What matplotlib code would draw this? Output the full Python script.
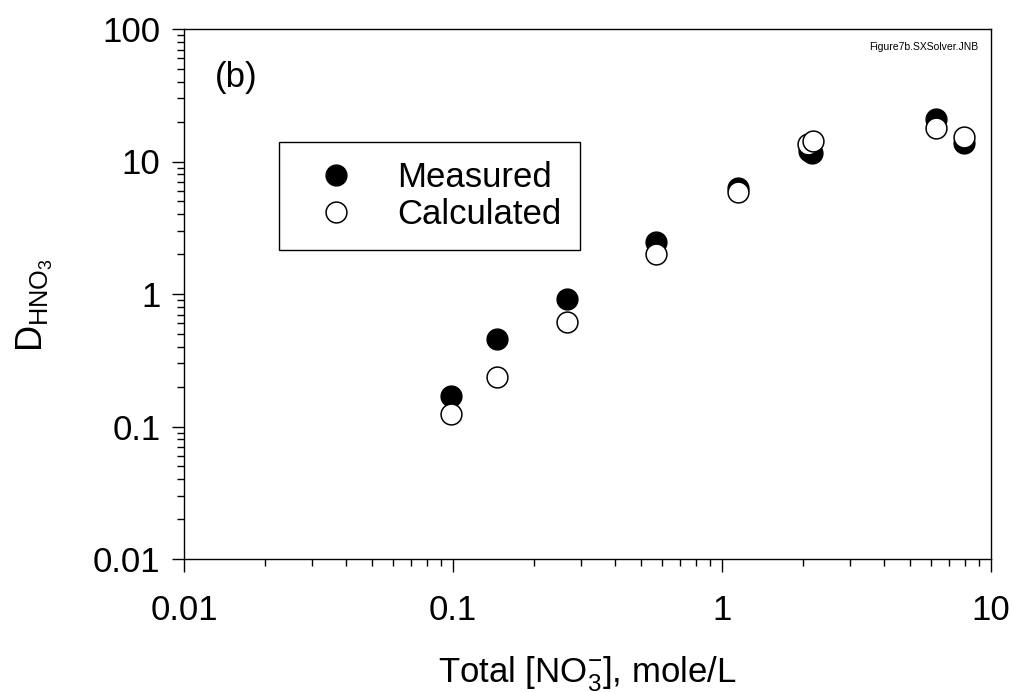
import matplotlib
matplotlib.use("Agg")
import matplotlib.pyplot as plt
from matplotlib.lines import Line2D

plt.rcParams['font.family'] = ['Liberation Sans', 'DejaVu Sans']
plt.rcParams['mathtext.fontset'] = 'custom'
plt.rcParams['mathtext.rm'] = 'Liberation Sans'
plt.rcParams['mathtext.it'] = 'Liberation Sans'
plt.rcParams['mathtext.bf'] = 'Liberation Sans:bold'

# Data
meas_x = [0.0985, 0.146, 0.266, 0.569, 1.146, 2.10, 2.16, 6.25, 7.94]
meas_y = [0.170, 0.457, 0.916, 2.47, 6.30, 11.9, 11.6, 20.9, 13.8]
calc_x = [0.0985, 0.146, 0.266, 0.569, 1.146, 2.09, 2.18, 6.25, 7.94]
calc_y = [0.124, 0.236, 0.615, 2.00, 5.89, 13.6, 14.3, 17.9, 15.3]
x_ticks = [0.01, 0.1, 1, 10]
x_ticklabels = ['0.01', '0.1', '1', '10']
y_ticks = [0.01, 0.1, 1, 10, 100]
y_ticklabels = ['0.01', '0.1', '1', '10', '100']

fig = plt.figure(figsize=(10.13, 6.92), dpi=100)
ax = fig.add_axes([184/1013, 1-559/692, (991-184)/1013, (559-29)/692])

ax.set_xscale('log')
ax.set_yscale('log')
ax.set_xlim(0.01, 10)
ax.set_ylim(0.01, 100)

ms = 15
ax.plot(meas_x, meas_y, 'o', ls='none', ms=ms, mfc='black', mec='black', mew=1, zorder=3)
ax.plot(calc_x, calc_y, 'o', ls='none', ms=ms, mfc='white', mec='black', mew=1.1, zorder=4)

ax.set_xticks(x_ticks)
ax.set_xticklabels(x_ticklabels)
ax.set_yticks(y_ticks)
ax.set_yticklabels(y_ticklabels)
ax.tick_params(axis='both', which='major', direction='out', length=9, width=1,
               labelsize=25, colors='black')
ax.tick_params(axis='x', which='major', pad=16)
ax.tick_params(axis='y', which='major', pad=8)
ax.tick_params(axis='both', which='minor', direction='out', length=5, width=1)
for s in ax.spines.values():
    s.set_linewidth(1)
    s.set_color('black')

ax.set_xlabel(r'Total [NO$\mathregular{_3^{-}}$], mole/L', fontsize=25, labelpad=20)
ax.set_ylabel(r'$\mathregular{D_{HNO_3}}$', fontsize=26, labelpad=27)
ax.yaxis.label.set_y(0.48)

ax.text(215/1013, 1-78/692, '(b)', transform=fig.transFigure, fontsize=25,
        ha='left', va='center')
ax.text(978/1013, 1-47/692, 'Figure7b.SXSolver.JNB', transform=fig.transFigure,
        fontsize=7.5, ha='right', va='center')

handles = [Line2D([], [], ls='none', marker='o', ms=ms, mfc='black', mec='black'),
           Line2D([], [], ls='none', marker='o', ms=ms, mfc='white', mec='black', mew=1.1)]
leg = ax.legend(handles, ['Measured', 'Calculated'], loc='upper left',
                bbox_to_anchor=((279-184)/807, (559-142)/530), fontsize=25,
                frameon=True, fancybox=False, edgecolor='black', framealpha=1,
                borderpad=0.55, handletextpad=0.67, labelspacing=0.12,
                handlelength=2.18, borderaxespad=0)
leg.get_frame().set_linewidth(1)

fig.savefig('out.png', dpi=100)
